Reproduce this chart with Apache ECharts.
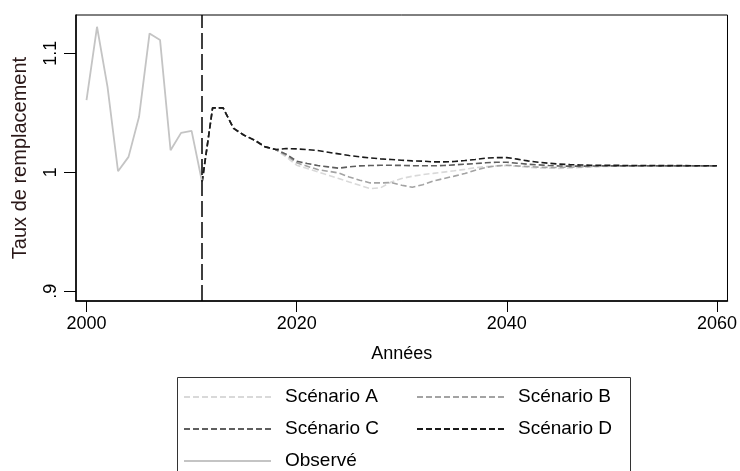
<!DOCTYPE html>
<html>
<head>
<meta charset="utf-8">
<script src="https://cdn.jsdelivr.net/npm/echarts@6/dist/echarts.min.js"></script>
<style>
  html, body { margin: 0; padding: 0; background: #fff; }
  #chart { width: 740px; height: 471px; }
</style>
</head>
<body>
<div id="chart"></div>
<script>
// observed years and values
var obsYears = [2000, 2001, 2002, 2003, 2004, 2005, 2006, 2007, 2008, 2009, 2010, 2011];
var observe = [1.0606, 1.1223, 1.0718, 1.0008, 1.0129, 1.0466, 1.1167, 1.1111, 1.0185, 1.0331, 1.0348, 0.9918];

// projection years 2011..2060
var projYears = [];
for (var y = 2011; y <= 2060; y++) projYears.push(y);

var scenA = [0.9918, 1.0541, 1.0541, 1.0368, 1.0311, 1.0269, 1.0213, 1.0191,
  1.0129, 1.0059, 1.0031, 1.0003, 0.9975, 0.9947, 0.9918, 0.9890, 0.9862, 0.9870, 0.9918, 0.9947,
  0.9966, 0.9980, 0.9990, 1.0001, 1.0012, 1.0024, 1.0038, 1.0047, 1.0053, 1.0056,
  1.0050, 1.0042, 1.0036, 1.0034, 1.0032, 1.0035, 1.0040, 1.0045, 1.0048, 1.0050,
  1.0051, 1.0052, 1.0052, 1.0053, 1.0053, 1.0053, 1.0053, 1.0053, 1.0053, 1.0053];
var scenB = [0.9918, 1.0541, 1.0541, 1.0368, 1.0311, 1.0269, 1.0213, 1.0191,
  1.0143, 1.0079, 1.0051, 1.0022, 1.0008, 0.9994, 0.9960, 0.9933, 0.9910, 0.9910, 0.9913, 0.9890,
  0.9874, 0.9895, 0.9925, 0.9947, 0.9967, 0.9989, 1.0017, 1.0040, 1.0053, 1.0059,
  1.0053, 1.0048, 1.0043, 1.0040, 1.0040, 1.0042, 1.0045, 1.0048, 1.0050, 1.0051,
  1.0052, 1.0052, 1.0053, 1.0053, 1.0053, 1.0053, 1.0053, 1.0053, 1.0053, 1.0053];
var scenC = [0.9918, 1.0541, 1.0541, 1.0368, 1.0311, 1.0269, 1.0213, 1.0191,
  1.0152, 1.0093, 1.0073, 1.0056, 1.0045, 1.0034, 1.0045, 1.0053, 1.0056, 1.0058, 1.0058, 1.0057,
  1.0055, 1.0054, 1.0054, 1.0056, 1.0062, 1.0067, 1.0073, 1.0079, 1.0084, 1.0084,
  1.0076, 1.0067, 1.0062, 1.0056, 1.0052, 1.0051, 1.0051, 1.0052, 1.0053, 1.0053,
  1.0053, 1.0053, 1.0053, 1.0053, 1.0053, 1.0053, 1.0053, 1.0053, 1.0053, 1.0053];
var scenD = [0.9918, 1.0541, 1.0541, 1.0368, 1.0311, 1.0269, 1.0213, 1.0191,
  1.0199, 1.0196, 1.0190, 1.0182, 1.0168, 1.0154, 1.0140, 1.0129, 1.0120, 1.0112, 1.0107, 1.0101,
  1.0095, 1.0093, 1.0087, 1.0087, 1.0090, 1.0098, 1.0107, 1.0118, 1.0123, 1.0123,
  1.0110, 1.0095, 1.0084, 1.0075, 1.0068, 1.0064, 1.0061, 1.0059, 1.0058, 1.0058,
  1.0057, 1.0057, 1.0056, 1.0056, 1.0055, 1.0055, 1.0055, 1.0054, 1.0054, 1.0054];

var xTicks = [2000, 2020, 2040, 2060];
var yTicks = [0.9, 1, 1.1];
var yTickLabels = ['.9', '1', '1.1'];
var cutYear = 2011;

function pairs(xs, vs) {
  var out = [];
  for (var i = 0; i < xs.length; i++) out.push([xs[i], vs[i]]);
  return out;
}

var font = 'Liberation Sans, Arial, sans-serif';
var chart = echarts.init(document.getElementById('chart'));

function dashed(name, data, color) {
  return {
    name: name,
    type: 'line',
    data: data,
    symbol: 'none',
    lineStyle: { color: color, width: 1.6, type: [6, 3] },
    itemStyle: { color: color }
  };
}

option = {
  animation: false,
  backgroundColor: '#fff',
  grid: {
    left: 76, right: 12, top: 15, bottom: 170,
    show: true, borderColor: '#000', borderWidth: 1
  },
  xAxis: {
    type: 'value',
    min: 1999, max: 2061,
    name: 'Années',
    nameLocation: 'middle',
    nameGap: 44,
    nameTextStyle: { fontFamily: font, fontSize: 18, color: '#000' },
    axisLine: { lineStyle: { color: '#000', width: 1.5 } },
    axisTick: { length: 11, customValues: xTicks, lineStyle: { color: '#000' } },
    axisLabel: {
      customValues: xTicks, margin: 14, fontFamily: font, fontSize: 18, color: '#000',
      formatter: function (v) { return String(v); }
    },
    splitLine: { show: false }
  },
  yAxis: {
    type: 'value',
    min: 0.8917, max: 1.1322,
    name: 'Taux de remplacement',
    nameLocation: 'middle',
    nameGap: 46,
    nameTextStyle: { fontFamily: font, fontSize: 20, color: '#2a1818' },
    axisLine: { show: true, lineStyle: { color: '#000', width: 1.5 } },
    axisTick: { show: true, length: 12, customValues: yTicks, lineStyle: { color: '#000' } },
    axisLabel: {
      customValues: yTicks, rotate: 90, margin: 16,
      fontFamily: font, fontSize: 18, color: '#000',
      formatter: function (v) {
        for (var i = 0; i < yTicks.length; i++) {
          if (Math.abs(v - yTicks[i]) < 1e-6) return yTickLabels[i];
        }
        return '';
      }
    },
    splitLine: { show: false }
  },
  legend: {
    data: ['Scénario A', 'Scénario B', 'Scénario C', 'Scénario D', 'Observé'],
    left: 183, top: 383, width: 470,
    padding: 0,
    itemWidth: 87, itemHeight: 14, itemGap: 4,
    itemStyle: { opacity: 0 },
    textStyle: {
      fontFamily: font, fontSize: 19, color: '#000',
      width: 127, lineHeight: 28, padding: [0, 0, 0, 9]
    }
  },
  // frame of the legend box
  graphic: [{
    type: 'rect', left: 175, top: 375, z: -1,
    shape: { width: 453, height: 130 },
    style: { fill: 'none', stroke: '#333', lineWidth: 1 }
  }],
  series: [
    dashed('Scénario A', pairs(projYears, scenA), '#d9d9d9'),
    dashed('Scénario B', pairs(projYears, scenB), '#a3a3a3'),
    dashed('Scénario C', pairs(projYears, scenC), '#5e5e5e'),
    dashed('Scénario D', pairs(projYears, scenD), '#1a1a1a'),
    {
      name: 'Observé',
      type: 'line',
      data: pairs(obsYears, observe),
      symbol: 'none',
      lineStyle: { color: '#c4c4c4', width: 1.8 },
      itemStyle: { color: '#c4c4c4' },
      markLine: {
        silent: true,
        symbol: ['none', 'none'],
        label: { show: false },
        lineStyle: { color: '#000', width: 1.5, type: [16, 5] },
        data: [{ xAxis: cutYear }]
      }
    }
  ]
};
chart.setOption(option);
</script>
</body>
</html>
